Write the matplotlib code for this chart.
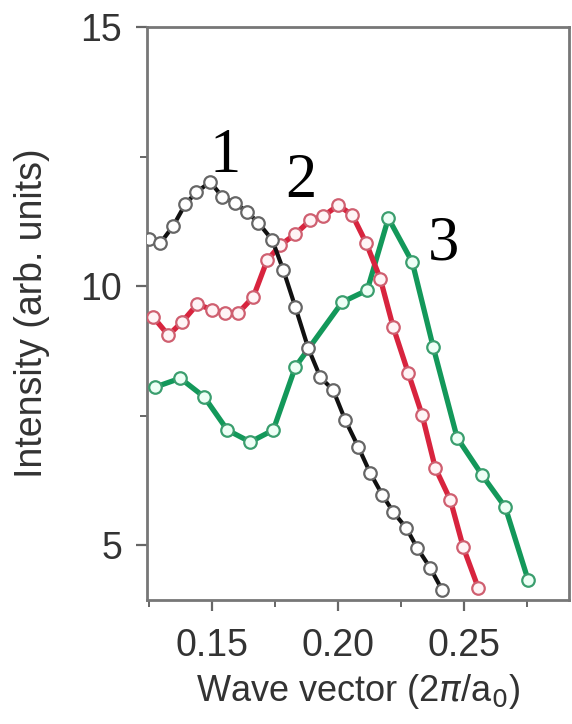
import matplotlib
matplotlib.use("Agg")
import matplotlib.pyplot as plt
from matplotlib.ticker import MultipleLocator

# Curve 1 (black)
x1 = [0.1251, 0.1295, 0.1346, 0.1394, 0.1438, 0.1493, 0.1541, 0.1592, 0.1640, 0.1684,
      0.1739, 0.1783, 0.1831, 0.1882, 0.1930, 0.1981, 0.2029, 0.2081, 0.2128, 0.2176,
      0.2219, 0.2271, 0.2315, 0.2366, 0.2414]
y1 = [10.91, 10.83, 11.16, 11.58, 11.81, 12.01, 11.72, 11.60, 11.43, 11.22,
      10.89, 10.31, 9.59, 8.80, 8.24, 7.99, 7.41, 6.89, 6.39, 5.97,
      5.64, 5.33, 4.94, 4.56, 4.13]

# Curve 2 (red)
x2 = [0.1267, 0.1327, 0.1382, 0.1442, 0.1501, 0.1553, 0.1604, 0.1664, 0.1719, 0.1771,
      0.1830, 0.1890, 0.1942, 0.2001, 0.2057, 0.2112, 0.2168, 0.2219, 0.2279, 0.2334,
      0.2386, 0.2446, 0.2497, 0.2557]
y2 = [9.40, 9.05, 9.31, 9.65, 9.54, 9.48, 9.48, 9.79, 10.50, 10.79,
      11.00, 11.27, 11.35, 11.56, 11.37, 10.83, 10.14, 9.21, 8.32, 7.51,
      6.49, 5.87, 4.96, 4.17]

# Curve 3 (green)
x3 = [0.1275, 0.1374, 0.1469, 0.1561, 0.1652, 0.1743, 0.1831, 0.2017, 0.2116, 0.2200,
      0.2295, 0.2378, 0.2473, 0.2572, 0.2664, 0.2755]
y3 = [8.05, 8.22, 7.86, 7.22, 6.99, 7.22, 8.44, 9.69, 9.92, 11.31,
      10.46, 8.82, 7.07, 6.35, 5.73, 4.32]

curve_labels = ["1", "2", "3"]
label_pos = [(0.1552, 12.50), (0.1852, 12.0), (0.2418, 10.80)]

xticks = [0.15, 0.20, 0.25]
xtick_labels = ["0.15", "0.20", "0.25"]
yticks = [5, 10, 15]

fig = plt.figure(figsize=(5.72, 7.24), dpi=100)
ax = fig.add_axes([0.257, 0.1713, 0.7378, 0.7914])

sans = ['Liberation Sans Narrow', 'Liberation Sans', 'DejaVu Sans']

ax.plot(x3, y3, color='#13985a', lw=3.8, marker='o', ms=9, mfc='#eefff6',
        mec='#3a9e6e', mew=1.6, zorder=3)
ax.plot(x2, y2, color='#d8243e', lw=3.8, marker='o', ms=9, mfc='#fff4f6',
        mec='#cf5f70', mew=1.6, zorder=4)
ax.plot(x1, y1, color='#111111', lw=3.0, marker='o', ms=9, mfc='white',
        mec='#666666', mew=1.6, zorder=5)

for lab, (lx, ly) in zip(curve_labels, label_pos):
    ax.text(lx, ly, lab, fontsize=45, family=['Liberation Serif', 'DejaVu Serif'],
            ha='center', va='center', color='black', zorder=6)

ax.set_xlim(0.1242, 0.2917)
ax.set_ylim(3.94, 15.0)

ax.set_xticks(xticks)
ax.set_xticklabels(xtick_labels)
ax.set_yticks(yticks)
ax.xaxis.set_minor_locator(MultipleLocator(0.025))
ax.yaxis.set_minor_locator(MultipleLocator(2.5))

for s in ax.spines.values():
    s.set_color('#777777')
    s.set_linewidth(2.0)

ax.tick_params(axis='both', which='major', direction='out', length=8, width=1.6,
               color='#666666', labelsize=27, labelcolor='#333333')
ax.tick_params(axis='both', which='minor', direction='out', length=5, width=1.4,
               color='#666666')
ax.tick_params(axis='x', which='major', pad=12)
ax.tick_params(axis='y', which='major', pad=10)
for t in ax.get_xticklabels() + ax.get_yticklabels():
    t.set_family(sans)

ax.set_xlabel(r'Wave vector (2$\pi$/a$_0$)', fontsize=26, color='#333333',
              family=sans, labelpad=6)
ax.set_ylabel('Intensity (arb. units)', fontsize=27, color='#333333',
              family=sans, labelpad=22)

fig.savefig('out.png', dpi=100)
